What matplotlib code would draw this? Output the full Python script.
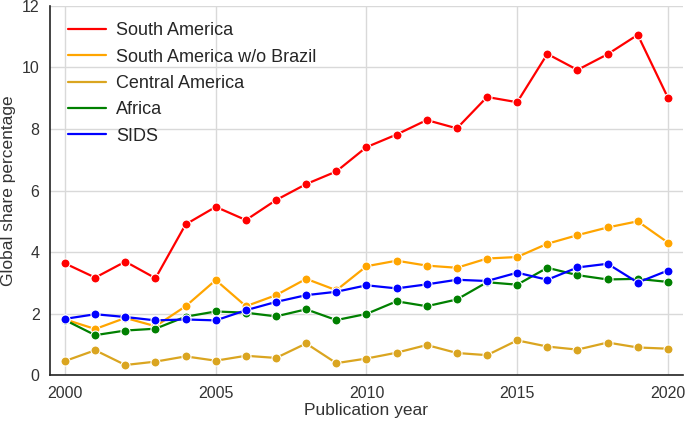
import matplotlib
matplotlib.use('Agg')
import matplotlib.pyplot as plt
import seaborn as sns

years = list(range(2000, 2021))

south_america = [3.63, 3.17, 3.69, 3.15, 4.90, 5.47, 5.04, 5.69, 6.21, 6.62, 7.41,
                 7.82, 8.29, 8.02, 9.04, 8.87, 10.44, 9.92, 10.43, 11.06, 9.02]
sa_wo_brazil = [1.81, 1.50, 1.86, 1.59, 2.24, 3.09, 2.24, 2.60, 3.13, 2.76, 3.54,
                3.72, 3.56, 3.49, 3.79, 3.84, 4.27, 4.55, 4.80, 5.00, 4.31]
central_america = [0.46, 0.81, 0.33, 0.44, 0.61, 0.47, 0.63, 0.56, 1.03, 0.39, 0.54,
                   0.73, 0.98, 0.72, 0.65, 1.13, 0.93, 0.83, 1.06, 0.90, 0.86]
africa = [1.79, 1.30, 1.45, 1.51, 1.90, 2.07, 2.03, 1.91, 2.14, 1.79, 1.99,
          2.40, 2.24, 2.46, 3.02, 2.94, 3.49, 3.25, 3.11, 3.13, 3.03]
sids = [1.83, 1.98, 1.89, 1.78, 1.81, 1.78, 2.11, 2.38, 2.60, 2.71, 2.92,
        2.82, 2.95, 3.10, 3.06, 3.33, 3.10, 3.50, 3.62, 3.01, 3.40]

series = [
    ('South America', south_america, 'red'),
    ('South America w/o Brazil', sa_wo_brazil, 'orange'),
    ('Central America', central_america, 'goldenrod'),
    ('Africa', africa, 'green'),
    ('SIDS', sids, 'blue'),
]

sns.set_style('whitegrid')
plt.rcParams['font.family'] = ['Liberation Sans', 'DejaVu Sans']

fig = plt.figure(figsize=(6.85, 4.22), dpi=100)
ax = fig.add_axes([0.073, 0.111, 0.924, 0.875])

for name, vals, col in series:
    ax.plot(years, vals, color=col, lw=1.6, label=name)
    ax.plot(years, vals, 'o', color=col, ms=6.5, mec='white', mew=0.8)

ax.set_xlim(1999.5, 2020.5)
ax.set_ylim(0, 12)
ax.set_xticks([2000, 2005, 2010, 2015, 2020])
ax.set_yticks(range(0, 13, 2))
ax.tick_params(labelsize=11.5, colors='#333333', pad=4)
ax.set_xlabel('Publication year', fontsize=12.5, color='#333333', labelpad=2)
ax.set_ylabel('Global share percentage', fontsize=12.5, color='#333333', labelpad=4)
ax.grid(color='#d9d9d9', lw=1)

for s in ['top', 'right']:
    ax.spines[s].set_visible(False)
for s in ['left', 'bottom']:
    ax.spines[s].set_color('#222222')
    ax.spines[s].set_linewidth(1.2)

ax.legend(loc='upper left', frameon=False, fontsize=13, handlelength=2.1,
          handletextpad=0.6, labelspacing=0.52, borderaxespad=0.4,
          bbox_to_anchor=(0.005, 0.995))

fig.savefig('out.png', dpi=100)
